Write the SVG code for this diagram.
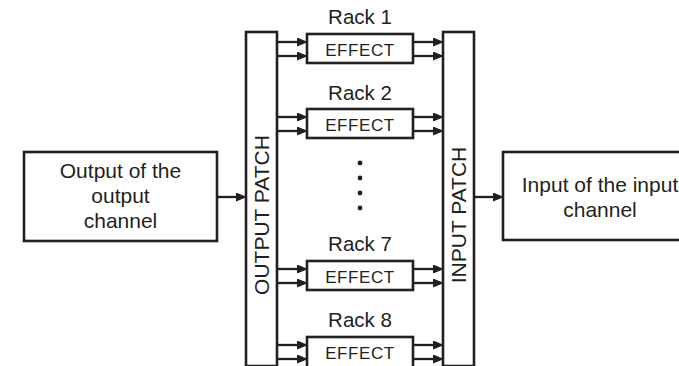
<svg xmlns="http://www.w3.org/2000/svg" width="679" height="366" viewBox="0 0 679 366">
<style>
.box{fill:#fff;stroke:#231f20;stroke-width:2.6}
.lbl{font-family:"Liberation Sans",Arial,sans-serif;fill:#231f20;text-anchor:middle}
.big{font-size:20.5px}
.txt{font-size:21px}
.eff{font-size:17px;letter-spacing:0.6px}
.con line{stroke:#231f20;stroke-width:2.3;marker-end:url(#ah)}
</style>
<defs>
<marker id="ah" markerUnits="userSpaceOnUse" markerWidth="11" markerHeight="10" refX="4" refY="4.5" orient="auto">
<path d="M0,0 L11,4.5 L0,9 Z" fill="#231f20"/>
</marker>
</defs>
<rect width="679" height="366" fill="#fff"/>
<g id="src">
<rect class="box" x="24" y="152" width="193" height="89"/>
<text class="lbl txt" x="120.5" y="178">Output of the</text>
<text class="lbl txt" x="120.5" y="203">output</text>
<text class="lbl txt" x="120.5" y="228">channel</text>
</g>
<g id="dst">
<rect class="box" x="503" y="152" width="194" height="88"/>
<text class="lbl txt" x="600" y="192">Input of the input</text>
<text class="lbl txt" x="600" y="217">channel</text>
</g>
<g id="outpatch">
<rect class="box" x="246" y="32" width="31" height="334"/>
<text class="lbl txt" transform="translate(269,215) rotate(-90)">OUTPUT PATCH</text>
</g>
<g id="inpatch">
<rect class="box" x="443" y="32" width="31" height="334"/>
<text class="lbl txt" transform="translate(466,215) rotate(-90)">INPUT PATCH</text>
</g>
<g id="rack1">
<text class="lbl big" x="360" y="24">Rack 1</text>
<rect class="box" x="307" y="34" width="106" height="29"/>
<text class="lbl eff" x="360" y="56">EFFECT</text>
</g>
<g id="rack2">
<text class="lbl big" x="360" y="100">Rack 2</text>
<rect class="box" x="307" y="109" width="106" height="29"/>
<text class="lbl eff" x="360" y="131">EFFECT</text>
</g>
<g id="rack7">
<text class="lbl big" x="360" y="251">Rack 7</text>
<rect class="box" x="307" y="261" width="106" height="29"/>
<text class="lbl eff" x="360" y="283">EFFECT</text>
</g>
<g id="rack8">
<text class="lbl big" x="360" y="327">Rack 8</text>
<rect class="box" x="307" y="337" width="106" height="31"/>
<text class="lbl eff" x="360" y="359">EFFECT</text>
</g>
<g id="dots" fill="#231f20">
<circle cx="360" cy="163" r="2.4"/>
<circle cx="360" cy="178" r="2.4"/>
<circle cx="360" cy="193" r="2.4"/>
<circle cx="360" cy="208" r="2.4"/>
</g>
<g id="connectors" class="con">
<line x1="217" y1="197" x2="240" y2="197"/>
<line x1="474" y1="197" x2="497" y2="197"/>
<line x1="277" y1="42" x2="301" y2="42"/>
<line x1="277" y1="56" x2="301" y2="56"/>
<line x1="413" y1="42" x2="437" y2="42"/>
<line x1="413" y1="56" x2="437" y2="56"/>
<line x1="277" y1="117" x2="301" y2="117"/>
<line x1="277" y1="131" x2="301" y2="131"/>
<line x1="413" y1="117" x2="437" y2="117"/>
<line x1="413" y1="131" x2="437" y2="131"/>
<line x1="277" y1="269" x2="301" y2="269"/>
<line x1="277" y1="283" x2="301" y2="283"/>
<line x1="413" y1="269" x2="437" y2="269"/>
<line x1="413" y1="283" x2="437" y2="283"/>
<line x1="277" y1="345" x2="301" y2="345"/>
<line x1="277" y1="359" x2="301" y2="359"/>
<line x1="413" y1="345" x2="437" y2="345"/>
<line x1="413" y1="359" x2="437" y2="359"/>
</g>
</svg>
